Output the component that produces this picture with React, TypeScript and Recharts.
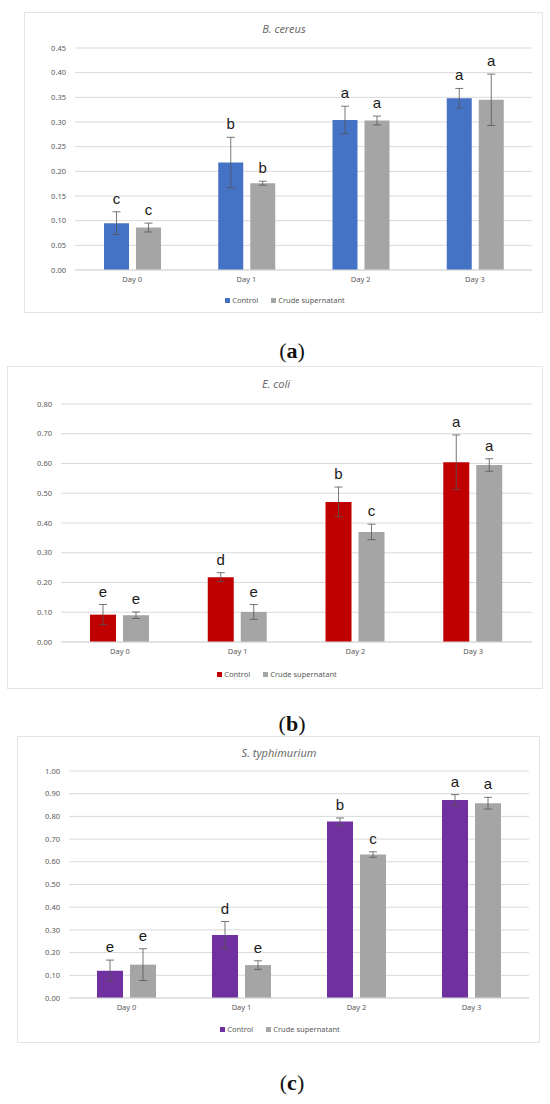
import React from "react";
import { BarChart, Bar, XAxis, YAxis, CartesianGrid, ErrorBar, LabelList, Legend } from "recharts";

const days = ["Day 0", "Day 1", "Day 2", "Day 3"];
const seriesNames = ["Control", "Crude supernatant"];

// (a) B. cereus
const bcControl = [0.095, 0.218, 0.304, 0.348];
const bcControlErr = [0.023, 0.051, 0.028, 0.02];
const bcCrude = [0.086, 0.176, 0.303, 0.345];
const bcCrudeErr = [0.009, 0.004, 0.009, 0.052];
const bcControlLetters = ["c", "b", "a", "a"];
const bcCrudeLetters = ["c", "b", "a", "a"];
const bcTicks = [0, 0.05, 0.1, 0.15, 0.2, 0.25, 0.3, 0.35, 0.4, 0.45];

// (b) E. coli
const ecControl = [0.092, 0.218, 0.471, 0.604];
const ecControlErr = [0.034, 0.015, 0.05, 0.092];
const ecCrude = [0.09, 0.101, 0.37, 0.595];
const ecCrudeErr = [0.011, 0.025, 0.026, 0.021];
const ecControlLetters = ["e", "d", "b", "a"];
const ecCrudeLetters = ["e", "e", "c", "a"];
const ecTicks = [0, 0.1, 0.2, 0.3, 0.4, 0.5, 0.6, 0.7, 0.8];

// (c) S. typhimurium
const stControl = [0.12, 0.277, 0.777, 0.872];
const stControlErr = [0.047, 0.06, 0.016, 0.024];
const stCrude = [0.147, 0.145, 0.632, 0.858];
const stCrudeErr = [0.07, 0.019, 0.012, 0.026];
const stControlLetters = ["e", "d", "b", "a"];
const stCrudeLetters = ["e", "e", "c", "a"];
const stTicks = [0, 0.1, 0.2, 0.3, 0.4, 0.5, 0.6, 0.7, 0.8, 0.9, 1.0];

const GRAY = "#A5A5A5";
const TEXT = "#595959";
const GRID = "#D9D9D9";
const SANS = "'Noto Sans', 'Open Sans', sans-serif";

function buildRows(c: number[], ce: number[], s: number[], se: number[], cl: string[], sl: string[]) {
  return days.map((d, i) => ({
    day: d,
    control: c[i],
    controlErr: ce[i],
    crude: s[i],
    crudeErr: se[i],
    controlLetter: cl[i],
    crudeLetter: sl[i],
  }));
}

function makeLetter(values: number[], errs: number[]) {
  return (props: any) => {
    const { x, y, width, height, value, index } = props;
    const v = values[index];
    const pxPerUnit = v ? height / v : 0;
    const errTop = y - errs[index] * pxPerUnit;
    return (
      <text
        x={x + width / 2}
        y={errTop - 8}
        textAnchor="middle"
        fontSize={15}
        fontFamily="'Liberation Sans', Arial, sans-serif"
        fill="#1a1a1a"
      >
        {value}
      </text>
    );
  };
}

type PanelProps = {
  title: string;
  color: string;
  rows: any[];
  cVals: number[];
  cErrs: number[];
  sVals: number[];
  sErrs: number[];
  ticks: number[];
  frame: { x: number; y: number; w: number; h: number };
  margin: { top: number; right: number; bottom: number; left: number };
  yWidth: number;
  xHeight: number;
  barSize: number;
  barGap: number;
  titleX: number;
  titleY: number;
  legendCx: number;
};

function Panel(p: PanelProps) {
  const legendContent = () => (
    <div
      style={{
        height: 14,
        lineHeight: "14px",
        display: "flex",
        justifyContent: "center",
        alignItems: "center",
        fontFamily: SANS,
        fontSize: 7.5,
        color: TEXT,
      }}
    >
      {seriesNames.map((n, i) => (
        <span key={n} style={{ display: "inline-flex", alignItems: "center", marginLeft: i ? 13 : 0 }}>
          <span
            style={{
              display: "inline-block",
              width: 5,
              height: 5,
              background: i === 0 ? p.color : GRAY,
              marginRight: 2,
            }}
          />
          {n}
        </span>
      ))}
    </div>
  );
  const legendW = 300;
  return (
    <div
      style={{
        position: "absolute",
        left: p.frame.x,
        top: p.frame.y,
        width: p.frame.w,
        height: p.frame.h,
        boxSizing: "border-box",
        border: "1px solid #E4E4E4",
        background: "#fff",
      }}
    >
      <div
        style={{
          position: "absolute",
          left: p.titleX - 100,
          top: p.titleY - 7,
          width: 200,
          lineHeight: "14px",
          textAlign: "center",
          fontFamily: SANS,
          fontStyle: "italic",
          fontSize: 11,
          color: "#6b6b6b",
          zIndex: 2,
        }}
      >
        {p.title}
      </div>
      <div style={{ position: "absolute", left: -1, top: -1 }}>
        <BarChart
          width={p.frame.w}
          height={p.frame.h}
          data={p.rows}
          margin={p.margin}
          barSize={p.barSize}
          barGap={p.barGap}
        >
          <CartesianGrid vertical={false} stroke={GRID} strokeWidth={1} />
          <XAxis
            dataKey="day"
            interval={0}
            tickLine={false}
            tickSize={0}
            tickMargin={7}
            height={p.xHeight}
            axisLine={{ stroke: GRID }}
            tick={{ fontSize: 7.5, fill: TEXT, fontFamily: SANS }}
          />
          <YAxis
            type="number"
            domain={[p.ticks[0], p.ticks[p.ticks.length - 1]]}
            ticks={p.ticks}
            interval={0}
            tickFormatter={(v: number) => v.toFixed(2)}
            axisLine={false}
            tickLine={false}
            tickSize={0}
            tickMargin={9}
            width={p.yWidth}
            tick={{ fontSize: 7.5, fill: TEXT, fontFamily: SANS }}
          />
          <Legend
            verticalAlign="bottom"
            content={legendContent}
            wrapperStyle={{ left: p.legendCx - legendW / 2, width: legendW }}
          />
          <Bar dataKey="control" name={seriesNames[0]} fill={p.color} isAnimationActive={false}>
            <ErrorBar dataKey="controlErr" width={4} stroke="#555" strokeWidth={0.8} isAnimationActive={false} />
            <LabelList dataKey="controlLetter" content={makeLetter(p.cVals, p.cErrs)} />
          </Bar>
          <Bar dataKey="crude" name={seriesNames[1]} fill={GRAY} isAnimationActive={false}>
            <ErrorBar dataKey="crudeErr" width={4} stroke="#555" strokeWidth={0.8} isAnimationActive={false} />
            <LabelList dataKey="crudeLetter" content={makeLetter(p.sVals, p.sErrs)} />
          </Bar>
        </BarChart>
      </div>
    </div>
  );
}

function Caption({ label, cy }: { label: string; cy: number }) {
  return (
    <div
      style={{
        position: "absolute",
        left: 192,
        width: 200,
        top: cy - 14,
        lineHeight: "28px",
        textAlign: "center",
        fontFamily: "'Liberation Serif', 'Times New Roman', serif",
        fontSize: 22,
        color: "#111",
      }}
    >
      (<b>{label}</b>)
    </div>
  );
}

export default function App() {
  const bcRows = buildRows(bcControl, bcControlErr, bcCrude, bcCrudeErr, bcControlLetters, bcCrudeLetters);
  const ecRows = buildRows(ecControl, ecControlErr, ecCrude, ecCrudeErr, ecControlLetters, ecCrudeLetters);
  const stRows = buildRows(stControl, stControlErr, stCrude, stCrudeErr, stControlLetters, stCrudeLetters);
  return (
    <div style={{ position: "absolute", left: 0, top: 0, width: 550, height: 1104, background: "#fff", overflow: "hidden" }}>
      <Panel
        title="B. cereus"
        color="#4472C4"
        rows={bcRows}
        cVals={bcControl}
        cErrs={bcControlErr}
        sVals={bcCrude}
        sErrs={bcCrudeErr}
        ticks={bcTicks}
        frame={{ x: 24, y: 12, w: 519, h: 301 }}
        margin={{ top: 36, right: 11, bottom: 6, left: 0 }}
        yWidth={51}
        xHeight={23}
        barSize={25}
        barGap={7}
        titleX={259}
        titleY={16}
        legendCx={261}
      />
      <Caption label="a" cy={351} />
      <Panel
        title="E. coli"
        color="#C00000"
        rows={ecRows}
        cVals={ecControl}
        cErrs={ecControlErr}
        sVals={ecCrude}
        sErrs={ecCrudeErr}
        ticks={ecTicks}
        frame={{ x: 7, y: 366, w: 536, h: 323 }}
        margin={{ top: 38, right: 11, bottom: 8, left: 0 }}
        yWidth={54}
        xHeight={25}
        barSize={26}
        barGap={7}
        titleX={268}
        titleY={17}
        legendCx={270}
      />
      <Caption label="b" cy={724} />
      <Panel
        title="S. typhimurium"
        color="#7030A0"
        rows={stRows}
        cVals={stControl}
        cErrs={stControlErr}
        sVals={stCrude}
        sErrs={stCrudeErr}
        ticks={stTicks}
        frame={{ x: 17, y: 736, w: 523, h: 307 }}
        margin={{ top: 35, right: 11, bottom: 7, left: 0 }}
        yWidth={52}
        xHeight={24}
        barSize={26}
        barGap={7}
        titleX={261}
        titleY={16}
        legendCx={263}
      />
      <Caption label="c" cy={1083} />
    </div>
  );
}
